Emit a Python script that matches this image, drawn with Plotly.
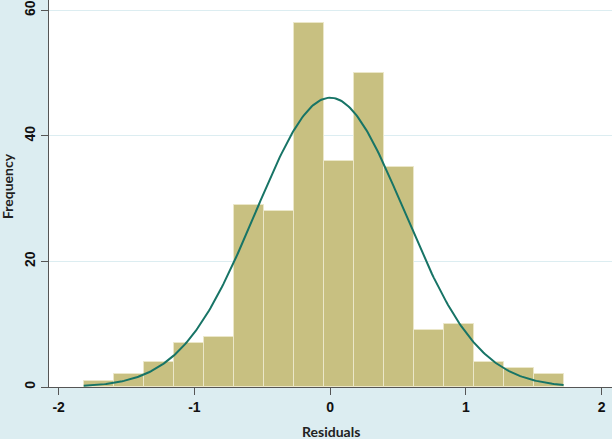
import numpy as np
import plotly.graph_objects as go

# histogram of residuals (16 bins)
bin_start = -1.815
bin_width = 0.2209
counts = [1, 2, 4, 7, 8, 29, 28, 58, 36, 50, 35, 9, 10, 4, 3, 2]

# normal overlay parameters
mu = 0.0
sigma = 0.547

x_ticks = [-2, -1, 0, 1, 2]
x_labels = ["-2", "-1", "0", "1", "2"]
y_ticks = [0, 20, 40, 60]
y_labels = ["0", "20", "40", "60"]

centers = [bin_start + bin_width * (i + 0.5) for i in range(len(counts))]
n = sum(counts)
bin_end = bin_start + bin_width * len(counts)
xs = np.linspace(bin_start, bin_end, 300)
ys = n * bin_width / (sigma * np.sqrt(2 * np.pi)) * np.exp(-0.5 * ((xs - mu) / sigma) ** 2)

fig = go.Figure()
fig.add_trace(go.Bar(
    x=centers, y=counts, width=bin_width,
    marker=dict(color="#c8c081", line=dict(color="#ebe7c9", width=1)),
    showlegend=False,
))
fig.add_trace(go.Scatter(
    x=xs, y=ys, mode="lines",
    line=dict(color="#177466", width=2),
    showlegend=False,
))

tickfont = dict(family="Liberation Sans", size=14, color="#111111", weight="bold")
titlefont = dict(family="Lato", size=14, color="#222222", weight="bold")
fig.update_layout(
    width=612, height=439,
    margin=dict(l=49, r=0, t=0, b=52),
    paper_bgcolor="#dcedf1",
    plot_bgcolor="white",
    bargap=0,
    xaxis=dict(
        range=[-2.071, 2.076], tickvals=x_ticks, ticktext=x_labels,
        ticks="outside", ticklen=7, tickcolor="#555555",
        showline=True, linecolor="#555555", linewidth=1,
        showgrid=False, zeroline=False, tickfont=tickfont, automargin=False,
    ),
    yaxis=dict(
        range=[0, 61.64], tickvals=y_ticks, ticktext=y_labels,
        ticks="outside", ticklen=7, tickcolor="#555555",
        showline=True, linecolor="#555555", linewidth=1,
        showgrid=True, gridcolor="#dcedf1", gridwidth=1, zeroline=False,
        tickangle=-90, tickfont=tickfont, automargin=False,
    ),
    annotations=[
        dict(text="Residuals", xref="paper", yref="paper", x=0.5, y=-0.088,
             xanchor="center", yanchor="top", showarrow=False, font=titlefont),
        dict(text="Frequency", xref="paper", yref="paper", x=-0.074, y=0.52,
             xanchor="center", yanchor="middle", textangle=-90, showarrow=False, font=titlefont),
    ],
)

fig.write_html("out.html", config={"displayModeBar": False},
               post_script="document.body.style.margin='0';")
